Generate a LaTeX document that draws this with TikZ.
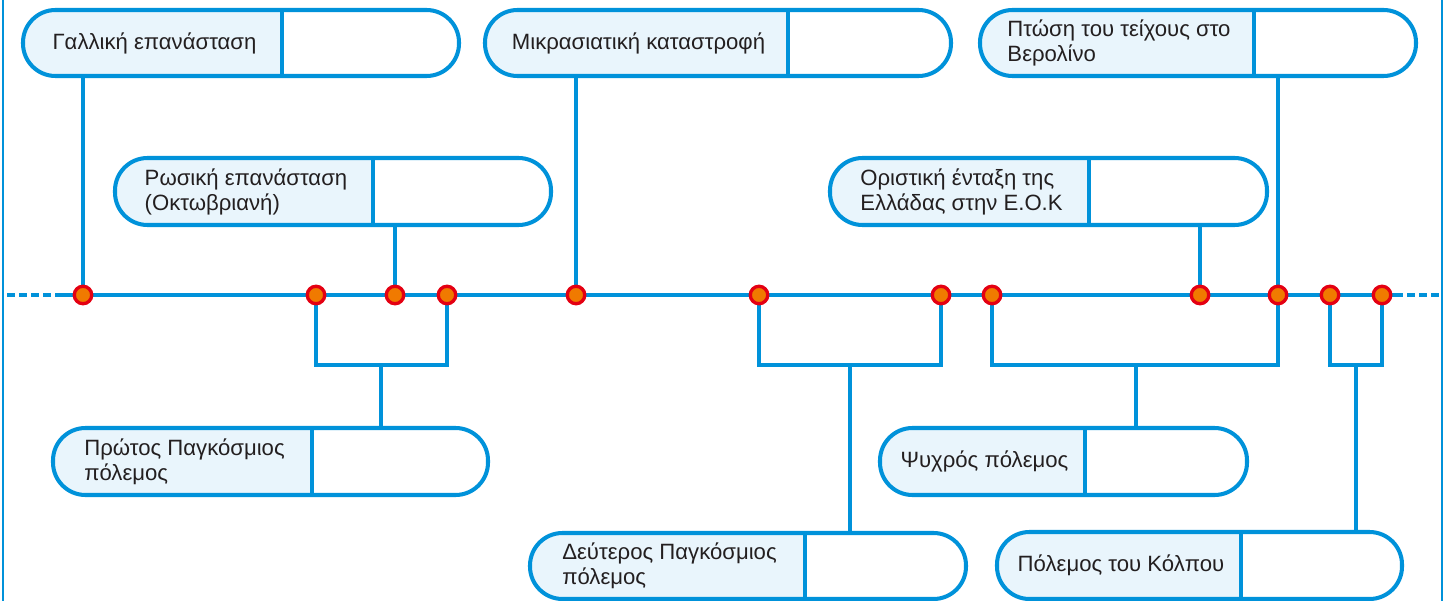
\documentclass[tikz,border=0pt]{standalone}
\usepackage{fontspec}
\setmainfont{Liberation Sans}
\usetikzlibrary{backgrounds}

\definecolor{tlblue}{RGB}{0,146,218}
\definecolor{evbg}{RGB}{233,245,252}
\definecolor{dotred}{RGB}{228,0,18}
\definecolor{dotorange}{RGB}{240,122,0}
\definecolor{textgray}{RGB}{35,31,32}

\tikzstyle{tl} = [draw=tlblue, line width=2pt]
\tikzstyle{tldash} = [tl, dash pattern=on 4.5pt off 2.4pt]
\tikzstyle{frame} = [draw=tlblue, line width=1.6pt]
\tikzstyle{dot} = [circle, draw=dotred, line width=1.9pt, fill=dotorange,
	minimum size=0.35cm, inner sep=0pt]
\tikzstyle{evbox} = [rectangle, draw=tlblue, line width=2.3pt, fill=white,
	rounded corners=0.65cm, inner sep=0pt]
\tikzstyle{evline} = [draw=tlblue, line width=2.2pt, sharp corners]
\tikzstyle{evtext} = [align=left, inner sep=0pt, text=textgray,
	font=\fontsize{12.6}{14.2}\selectfont]

% name, left, divider, right, top, bottom, text
\newcommand{\eventbox}[7]{%
	\node [evbox, minimum width={(#4-#2)*0.02cm}, minimum height={(#6-#5)*0.02cm},
		path picture={
			\fill [evbg, sharp corners] (path picture bounding box.north west) rectangle
				([xshift={(#3-#2)*0.02cm}]path picture bounding box.south west);
			\draw [evline] ([xshift={(#3-#2)*0.02cm}]path picture bounding box.north west)
				-- ([xshift={(#3-#2)*0.02cm}]path picture bounding box.south west);}]
		(#1) at ({(#2+#4)/2},{(#5+#6)/2}) {};
	\node [evtext] (#1-t) at ({(#2+#3)/2+2},{(#5+#6)/2}) {#7};}

\begin{document}
\begin{tikzpicture}[x=0.02cm, y=-0.02cm]
	\useasboundingbox (0,0) rectangle (1447,601);
	
	% side rules
	\draw [frame] (3,0) -- (3,601);
	\draw [frame] (1442,0) -- (1442,601);
	
	% dates on the line
	\foreach \x [count=\i] in {83,316,395,447,576,759,941,992,1200,1278,1330,1382}
		\node [dot] (d\i) at (\x,295) {};
	
	% events
	\eventbox{gallic}{23}{282}{459}{10}{76}{Γαλλική επανάσταση}
	\eventbox{mikras}{485}{788}{951}{10}{76}{Μικρασιατική καταστροφή}
	\eventbox{teixos}{980}{1254}{1416}{10}{76}{Πτώση του τείχους στο\\Βερολίνο}
	\eventbox{rosiki}{115}{373}{551}{158}{225}{Ρωσική επανάσταση\\(Οκτωβριανή)}
	\eventbox{eok}{830}{1089}{1267}{158}{225}{Οριστική ένταξη της\\Ελλάδας στην Ε.Ο.Κ}
	\eventbox{protos}{53}{312}{488}{428}{495}{Πρώτος Παγκόσμιος\\πόλεμος}
	\eventbox{psyxros}{880}{1085}{1247}{428}{495}{Ψυχρός πόλεμος}
	\eventbox{defteros}{530}{805}{966}{533}{599}{Δεύτερος Παγκόσμιος\\πόλεμος}
	\eventbox{kolpos}{997}{1241}{1402}{532}{599}{Πόλεμος του Κόλπου}
	
	\coordinate (tlL) at (7,295);
	\coordinate (tlA) at (60,295);
	\coordinate (tlB) at (1395,295);
	\coordinate (tlR) at (1440,295);
	\coordinate (k1) at (381,365);
	\coordinate (k2) at (850,365);
	\coordinate (k3) at (1136,365);
	\coordinate (k4) at (1356,365);
	
	\begin{scope}[on background layer]
		\draw [tldash] (tlL) -- (tlA);
		\draw [tl] (tlA) -- (tlB);
		\draw [tldash] (tlB) -- (tlR);
		
		\draw [tl] (d1) -- (d1 |- gallic.south);
		\draw [tl] (d5) -- (d5 |- mikras.south);
		\draw [tl] (d10) -- (d10 |- teixos.south);
		\draw [tl] (d3) -- (d3 |- rosiki.south);
		\draw [tl] (d9) -- (d9 |- eok.south);
		
		\draw [tl] (d2) |- (k1) -| (d4);
		\draw [tl] (k1) -- (k1 |- protos.north);
		\draw [tl] (d6) |- (k2) -| (d7);
		\draw [tl] (k2) -- (k2 |- defteros.north);
		\draw [tl] (d8) |- (k3) -| (d10);
		\draw [tl] (k3) -- (k3 |- psyxros.north);
		\draw [tl] (d11) |- (k4) -| (d12);
		\draw [tl] (k4) -- (k4 |- kolpos.north);
	\end{scope}
\end{tikzpicture}
\end{document}
